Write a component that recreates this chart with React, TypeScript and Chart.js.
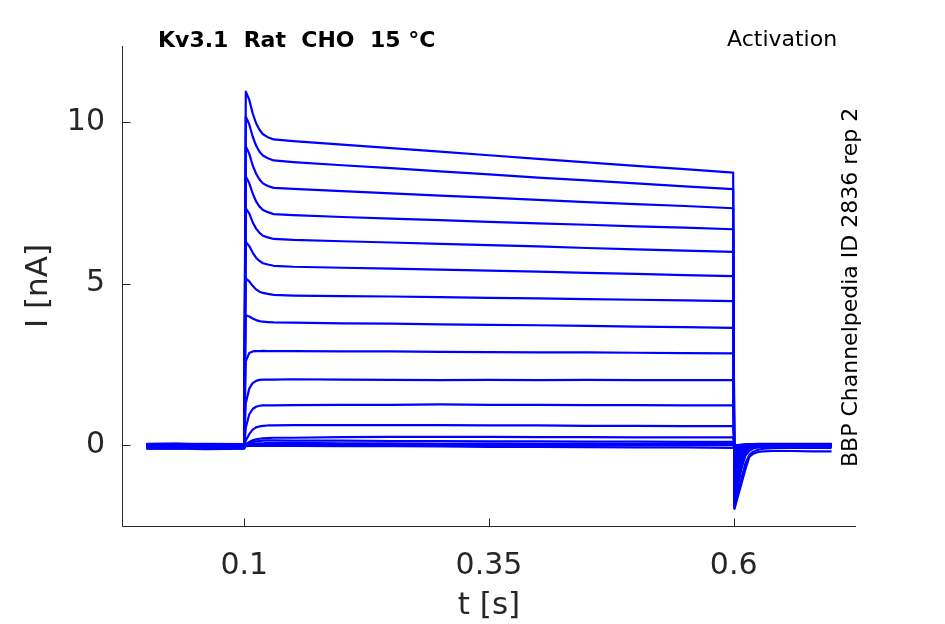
import React, { useEffect, useRef } from "react";
import { Chart, registerables } from "chart.js";
Chart.register(...registerables);

// time samples (s) for each segment of the sweep
const T_PRE = [0, 0.03, 0.06, 0.0998];
const T_ON = [0.1015, 0.105, 0.1085, 0.112, 0.1155, 0.119, 0.124];
const T_STEADY = [0.13, 0.15, 0.2, 0.25, 0.3, 0.35, 0.4, 0.45, 0.5, 0.55, 0.5995];
const T_TAIL = [0.6008, 0.604, 0.608, 0.612, 0.616, 0.62, 0.625, 0.63, 0.64, 0.66, 0.68, 0.7];

// currents (nA), one row per sweep
const PRE = [
  [-0.02, -0.03, -0.01, -0.02],
  [0.0, 0.01, -0.01, 0.0],
  [-0.05, -0.04, -0.06, -0.05],
  [0.02, 0.03, 0.01, 0.02],
  [-0.08, -0.07, -0.09, -0.08],
  [0.03, 0.02, 0.04, 0.03],
  [-0.1, -0.11, -0.09, -0.1],
  [0.0, -0.01, 0.01, 0.0],
  [-0.04, -0.03, -0.05, -0.04],
  [0.04, 0.05, 0.03, 0.04],
  [-0.06, -0.07, -0.05, -0.06],
  [0.01, 0.0, 0.02, 0.01],
  [-0.03, -0.02, -0.04, -0.03],
  [0.02, 0.01, 0.03, 0.02],
  [-0.07, -0.06, -0.08, -0.07],
  [0.03, 0.04, 0.02, 0.03],
  [-0.11, -0.1, -0.12, -0.11],
];

const ONSET = [
  [10.94, 10.69, 10.27, 9.96, 9.76, 9.62, 9.53],
  [10.16, 9.93, 9.55, 9.27, 9.08, 8.96, 8.88],
  [9.24, 9.02, 8.66, 8.4, 8.22, 8.1, 8.02],
  [8.31, 8.11, 7.79, 7.54, 7.38, 7.28, 7.21],
  [7.33, 7.17, 6.9, 6.7, 6.57, 6.48, 6.43],
  [6.29, 6.16, 5.96, 5.8, 5.7, 5.63, 5.59],
  [5.16, 5.07, 4.93, 4.82, 4.75, 4.71, 4.68],
  [4.02, 3.98, 3.92, 3.87, 3.84, 3.82, 3.81],
  [2.6, 2.85, 2.9, 2.91, 2.91, 2.92, 2.91],
  [1.3, 1.75, 1.92, 1.99, 2.02, 2.03, 2.03],
  [0.55, 0.95, 1.12, 1.19, 1.22, 1.23, 1.23],
  [0.15, 0.34, 0.48, 0.55, 0.58, 0.6, 0.61],
  [0.03, 0.1, 0.15, 0.18, 0.2, 0.21, 0.22],
  [0.02, 0.06, 0.1, 0.12, 0.13, 0.14, 0.15],
  [0.0, 0.03, 0.04, 0.05, 0.06, 0.06, 0.07],
  [0.0, 0.01, 0.01, 0.02, 0.02, 0.02, 0.02],
  [-0.03, -0.02, -0.02, -0.02, -0.02, -0.02, -0.02],
];

const STEADY = [
  [9.46, 9.41, 9.3, 9.19, 9.08, 8.97, 8.86, 8.75, 8.64, 8.54, 8.43],
  [8.81, 8.76, 8.66, 8.57, 8.47, 8.38, 8.28, 8.19, 8.1, 8.01, 7.92],
  [7.96, 7.93, 7.86, 7.79, 7.72, 7.66, 7.59, 7.52, 7.46, 7.4, 7.33],
  [7.15, 7.12, 7.06, 7.01, 6.96, 6.91, 6.86, 6.82, 6.77, 6.73, 6.68],
  [6.38, 6.35, 6.31, 6.27, 6.23, 6.19, 6.15, 6.1, 6.06, 6.02, 5.98],
  [5.55, 5.52, 5.49, 5.46, 5.43, 5.4, 5.37, 5.33, 5.3, 5.26, 5.23],
  [4.65, 4.63, 4.61, 4.6, 4.58, 4.56, 4.54, 4.52, 4.5, 4.48, 4.46],
  [3.8, 3.79, 3.77, 3.76, 3.74, 3.72, 3.71, 3.69, 3.67, 3.65, 3.63],
  [2.91, 2.91, 2.9, 2.9, 2.89, 2.88, 2.87, 2.87, 2.86, 2.85, 2.84],
  [2.03, 2.04, 2.03, 2.02, 2.01, 2.02, 2.01, 2.02, 2.01, 2.01, 2.01],
  [1.23, 1.24, 1.25, 1.25, 1.26, 1.25, 1.25, 1.24, 1.24, 1.23, 1.23],
  [0.61, 0.62, 0.62, 0.62, 0.62, 0.61, 0.61, 0.6, 0.6, 0.59, 0.59],
  [0.23, 0.23, 0.25, 0.26, 0.26, 0.26, 0.25, 0.25, 0.24, 0.24, 0.24],
  [0.15, 0.14, 0.14, 0.13, 0.13, 0.12, 0.12, 0.11, 0.11, 0.1, 0.1],
  [0.07, 0.07, 0.06, 0.06, 0.05, 0.05, 0.04, 0.04, 0.03, 0.03, 0.03],
  [0.02, 0.02, 0.02, 0.01, 0.01, 0.01, 0.01, 0.0, 0.0, 0.0, 0.0],
  [-0.02, -0.02, -0.03, -0.03, -0.04, -0.05, -0.05, -0.06, -0.07, -0.07, -0.08],
];

const TAIL = [
  [-1.97, -1.62, -1.18, -0.74, -0.36, -0.26, -0.21, -0.19, -0.18, -0.18, -0.19, -0.19],
  [-1.95, -1.5, -1.02, -0.56, -0.3, -0.2, -0.14, -0.11, -0.09, -0.08, -0.08, -0.08],
  [-1.9, -1.3, -0.72, -0.32, -0.17, -0.1, -0.07, -0.06, -0.05, -0.05, -0.05, -0.05],
  [-1.85, -1.15, -0.55, -0.22, -0.1, -0.06, -0.04, -0.03, -0.03, -0.03, -0.03, -0.03],
  [-1.75, -0.95, -0.38, -0.14, -0.06, -0.03, -0.02, -0.02, -0.02, -0.02, -0.02, -0.02],
  [-1.6, -0.75, -0.25, -0.08, -0.03, -0.01, -0.01, 0.0, 0.0, 0.0, 0.0, 0.0],
  [-1.4, -0.55, -0.15, -0.04, -0.01, 0.0, 0.0, 0.01, 0.01, 0.01, 0.01, 0.01],
  [-1.15, -0.38, -0.08, -0.02, 0.0, 0.01, 0.01, 0.01, 0.02, 0.02, 0.02, 0.02],
  [-0.85, -0.22, -0.04, 0.0, 0.02, 0.02, 0.02, 0.02, 0.03, 0.03, 0.03, 0.03],
  [-0.55, -0.12, -0.02, 0.01, 0.02, 0.03, 0.03, 0.03, 0.03, 0.03, 0.03, 0.03],
  [-0.3, -0.06, 0.0, 0.02, 0.03, 0.03, 0.04, 0.04, 0.04, 0.04, 0.04, 0.04],
  [-0.12, -0.02, 0.01, 0.02, 0.03, 0.03, 0.03, 0.03, 0.03, 0.03, 0.03, 0.03],
  [-0.05, 0.0, 0.01, 0.02, 0.02, 0.02, 0.02, 0.02, 0.02, 0.02, 0.02, 0.02],
  [-0.02, 0.0, 0.01, 0.01, 0.01, 0.01, 0.01, 0.01, 0.01, 0.01, 0.01, 0.01],
  [-0.01, 0.0, 0.0, 0.0, 0.0, 0.0, 0.0, 0.0, 0.0, 0.0, 0.0, 0.0],
  [-0.02, -0.01, -0.01, -0.01, -0.01, -0.01, -0.01, -0.01, -0.01, -0.01, -0.01, -0.01],
  [-0.06, -0.05, -0.05, -0.05, -0.05, -0.05, -0.05, -0.05, -0.05, -0.05, -0.05, -0.05],
];

const X_TICKS = [0.1, 0.35, 0.6];
const X_TICK_LABELS = ["0.1", "0.35", "0.6"];
const Y_TICKS = [0, 5, 10];
const Y_TICK_LABELS = ["0", "5", "10"];

const TITLE = "Kv3.1  Rat  CHO  15 °C";
const PROTOCOL = "Activation";
const SOURCE = "BBP Channelpedia ID 2836 rep 2";

const FONT = "'DejaVu Sans', 'Liberation Sans', sans-serif";
const AXIS_COLOR = "#262626";
const TRACE_COLOR = "#0000ff";

const decorPlugin = {
  id: "decor",
  afterDraw(chart: any) {
    const { ctx, chartArea, scales } = chart;
    const xs = scales.x;
    const ys = scales.y;
    ctx.save();
    ctx.strokeStyle = AXIS_COLOR;
    ctx.lineWidth = 1;
    const L = Math.round(chartArea.left) + 0.5;
    const B = Math.round(chartArea.bottom) + 0.5;
    ctx.beginPath();
    ctx.moveTo(L, Math.round(chartArea.top));
    ctx.lineTo(L, B);
    ctx.lineTo(Math.round(chartArea.right), B);
    ctx.stroke();
    const TL = 8;
    ctx.beginPath();
    X_TICKS.forEach((v) => {
      const px = Math.round(xs.getPixelForValue(v)) + 0.5;
      ctx.moveTo(px, B);
      ctx.lineTo(px, B - TL);
    });
    Y_TICKS.forEach((v) => {
      const py = Math.round(ys.getPixelForValue(v)) + 0.5;
      ctx.moveTo(L, py);
      ctx.lineTo(L + TL, py);
    });
    ctx.stroke();

    ctx.fillStyle = "#000";
    ctx.textBaseline = "alphabetic";
    ctx.textAlign = "left";
    ctx.font = `bold 22px ${FONT}`;
    ctx.fillText(TITLE, 158, 47);
    ctx.font = `22px ${FONT}`;
    ctx.fillText(PROTOCOL, 727, 46);
    ctx.translate(857, 467);
    ctx.rotate(-Math.PI / 2);
    ctx.fillText(SOURCE, 0, 0);
    ctx.restore();
  },
};

export default function App() {
  const ref = useRef<HTMLCanvasElement | null>(null);
  useEffect(() => {
    if (!ref.current) return;
    const datasets = PRE.map((_, i) => {
      const pts: { x: number; y: number }[] = [];
      T_PRE.forEach((t, j) => pts.push({ x: t, y: PRE[i][j] }));
      T_ON.forEach((t, j) => pts.push({ x: t, y: ONSET[i][j] }));
      T_STEADY.forEach((t, j) => pts.push({ x: t, y: STEADY[i][j] }));
      T_TAIL.forEach((t, j) => pts.push({ x: t, y: TAIL[i][j] }));
      return {
        label: `sweep ${i + 1}`,
        data: pts,
        borderColor: TRACE_COLOR,
        backgroundColor: TRACE_COLOR,
        borderWidth: 2.2,
        pointRadius: 0,
        tension: 0,
        fill: false,
        borderJoinStyle: "round" as const,
      };
    });
    const chart = new Chart(ref.current, {
      type: "line",
      data: { datasets },
      options: {
        animation: false,
        responsive: false,
        devicePixelRatio: 1,
        layout: { padding: { left: 0, top: 46, right: 89, bottom: 0 } },
        plugins: {
          legend: { display: false },
          tooltip: { enabled: false },
          title: { display: false },
        },
        scales: {
          x: {
            type: "linear",
            min: -0.025,
            max: 0.725,
            grid: { display: false },
            border: { display: false },
            afterBuildTicks: (s: any) => {
              s.ticks = X_TICKS.map((v) => ({ value: v }));
            },
            afterFit: (s: any) => {
              s.height = 98;
            },
            ticks: {
              padding: 14,
              maxRotation: 0,
              autoSkip: false,
              color: AXIS_COLOR,
              font: { family: FONT, size: 30 },
              callback: (v: any) => {
                const k = X_TICKS.findIndex((t) => Math.abs(t - Number(v)) < 1e-9);
                return k >= 0 ? X_TICK_LABELS[k] : "";
              },
            },
            title: {
              display: true,
              text: "t [s]",
              color: AXIS_COLOR,
              font: { family: FONT, size: 31 },
              padding: { top: 0, bottom: -1 },
            },
          },
          y: {
            type: "linear",
            min: -2.5,
            max: 12.35,
            grid: { display: false },
            border: { display: false },
            afterBuildTicks: (s: any) => {
              s.ticks = Y_TICKS.map((v) => ({ value: v }));
            },
            afterFit: (s: any) => {
              s.width = 122;
            },
            ticks: {
              padding: 9,
              autoSkip: false,
              color: AXIS_COLOR,
              font: { family: FONT, size: 30 },
              callback: (v: any) => {
                const k = Y_TICKS.findIndex((t) => Math.abs(t - Number(v)) < 1e-9);
                return k >= 0 ? Y_TICK_LABELS[k] : "";
              },
            },
            title: {
              display: true,
              text: "I [nA]",
              color: AXIS_COLOR,
              font: { family: FONT, size: 31 },
              padding: { top: 20, bottom: 0 },
            },
          },
        },
      },
      plugins: [decorPlugin],
    });
    return () => chart.destroy();
  }, []);
  return (
    <div style={{ position: "absolute", left: 0, top: 0, width: 945, height: 624, background: "#fff" }}>
      <canvas ref={ref} width={945} height={624} style={{ width: 945, height: 624, display: "block" }} />
    </div>
  );
}
